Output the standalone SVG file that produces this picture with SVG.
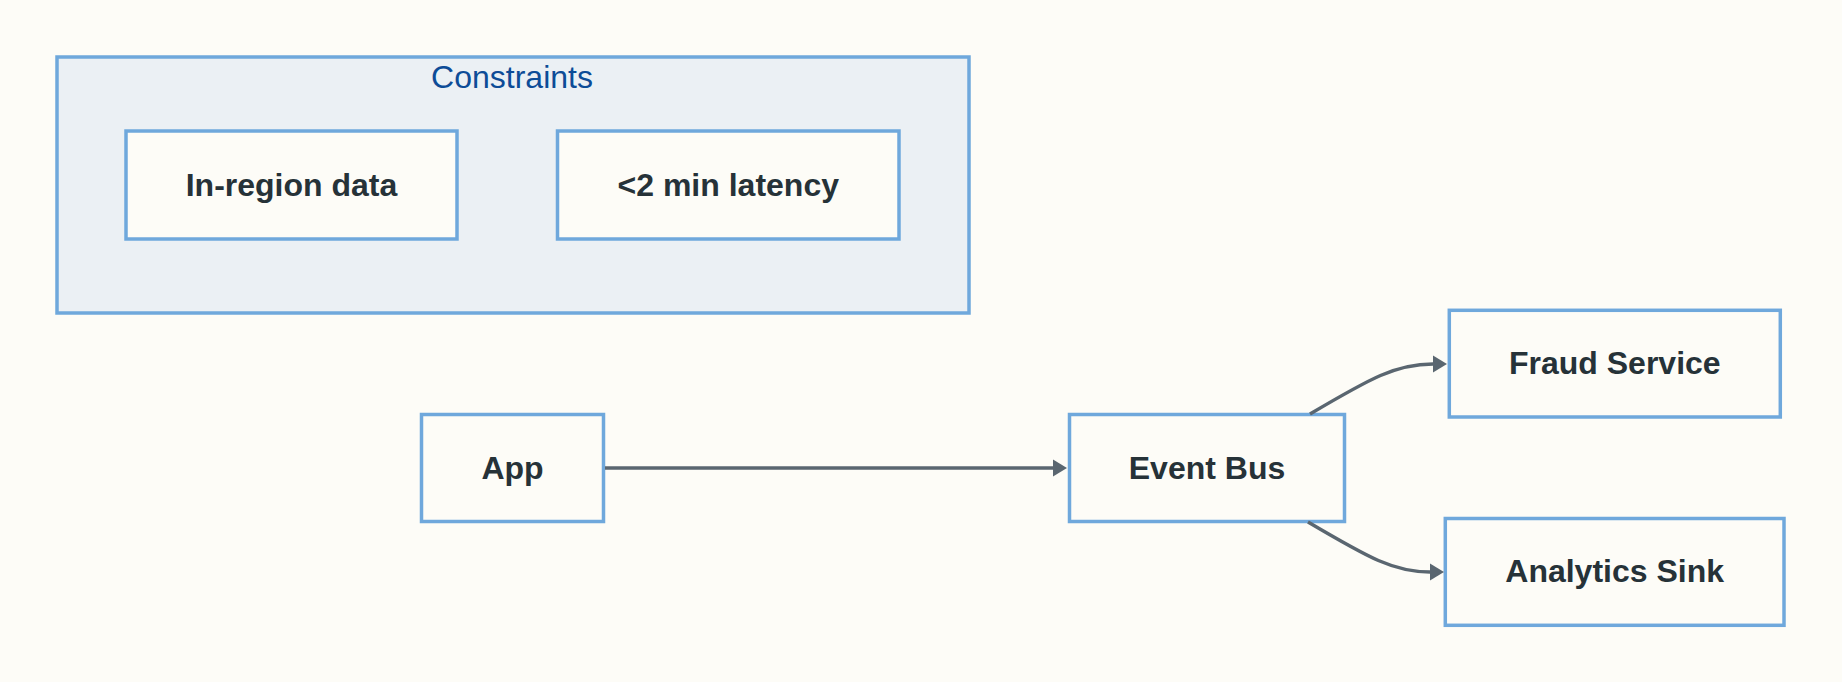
<svg xmlns="http://www.w3.org/2000/svg" width="1842" height="682" viewBox="0 0 1842 682">
  <defs>
    <style>
      .bg { fill: #fdfcf7; }
      .cluster { fill: #ebf0f4; stroke: #6fa8dc; stroke-width: 3.5; }
      .cluster-label { font-family: "Liberation Sans", Arial, sans-serif; font-size: 32px; fill: #0d4c97; text-anchor: middle; }
      .node rect { fill: #fdfcf7; stroke: #6fa8dc; stroke-width: 3.5; }
      .node text { font-family: "Liberation Sans", Arial, sans-serif; font-size: 32px; font-weight: bold; fill: #263238; text-anchor: middle; }
      .edge { fill: none; stroke: #5a6670; stroke-width: 3.5; }
    </style>
    <marker id="arrow" markerUnits="userSpaceOnUse" markerWidth="15" markerHeight="18" refX="0" refY="9" orient="auto">
      <path d="M0,0.5 L14,9 L0,17.5 Z" fill="#5a6670"/>
    </marker>
  </defs>

  <rect class="bg" x="0" y="0" width="1842" height="682"/>

  <g id="constraints">
    <rect class="cluster" x="57" y="57" width="912" height="256"/>
    <text class="cluster-label" x="512" y="87.5">Constraints</text>
  </g>

  <g id="in-region" class="node">
    <rect x="126" y="131" width="331" height="108"/>
    <text x="291.5" y="196">In-region data</text>
  </g>

  <g id="latency" class="node">
    <rect x="557.5" y="131" width="341.5" height="108"/>
    <text x="728.25" y="196">&lt;2 min latency</text>
  </g>

  <g id="app" class="node">
    <rect x="421.5" y="414.5" width="182" height="107"/>
    <text x="512.5" y="478.5">App</text>
  </g>

  <g id="event-bus" class="node">
    <rect x="1069.5" y="414.5" width="275" height="107"/>
    <text x="1207" y="478.5">Event Bus</text>
  </g>

  <g id="fraud" class="node">
    <rect x="1449.3" y="310.3" width="331" height="106.7"/>
    <text x="1614.8" y="374">Fraud Service</text>
  </g>

  <g id="analytics" class="node">
    <rect x="1445.3" y="518.5" width="338.7" height="106.8"/>
    <text x="1614.65" y="582">Analytics Sink</text>
  </g>

  <g id="connectors">
    <path class="edge" d="M605,468 L1053,468" marker-end="url(#arrow)"/>
    <path class="edge" d="M1310,414 C1371,378 1396,364 1433,364" marker-end="url(#arrow)"/>
    <path class="edge" d="M1308,522 C1369,558 1394,572 1430,572" marker-end="url(#arrow)"/>
  </g>
</svg>
